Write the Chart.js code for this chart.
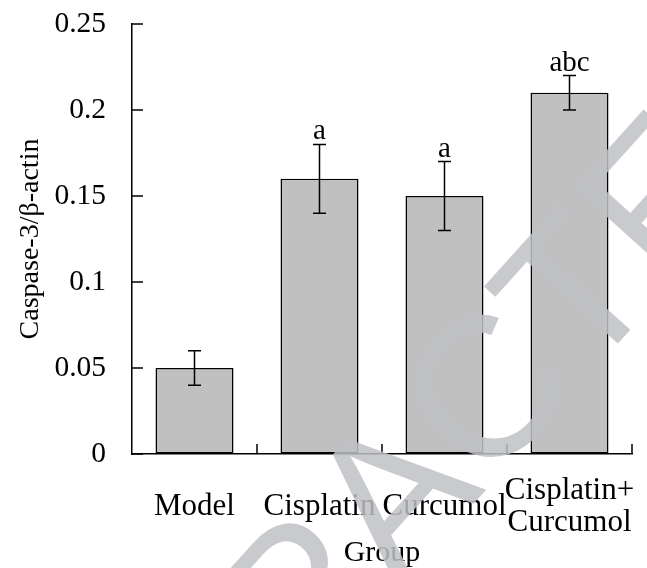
<!DOCTYPE html>
<html>
<head>
<meta charset="utf-8">
<script src="https://cdn.jsdelivr.net/npm/chart.js@4.4.1/dist/chart.umd.min.js"></script>
<style>
  html, body { margin: 0; padding: 0; background: #fff; }
  #wrap { width: 647px; height: 568px; position: relative; }
</style>
</head>
<body>
<div id="wrap"><canvas id="caspaseChart"></canvas></div>
<script>
// Data
const groups = ['Model', 'Cisplatin', 'Curcumol', ['Cisplatin+', 'Curcumol']];
const means = [0.05, 0.16, 0.15, 0.21];
const errors = [0.01, 0.02, 0.02, 0.01];
const marks = ['', 'a', 'a', 'abc'];
const yTicks = [0, 0.05, 0.1, 0.15, 0.2, 0.25];

const serif = '"Liberation Serif", "Times New Roman", serif';
Chart.defaults.font.family = serif;
Chart.defaults.color = '#000';

// Error bars, significance letters and inward tick marks
const figureExtras = {
    id: 'figureExtras',
    afterDatasetsDraw(chart) {
        const ctx = chart.ctx;
        const x = chart.scales.x;
        const y = chart.scales.y;
        const meta = chart.getDatasetMeta(0);
        const area = chart.chartArea;

        ctx.save();
        ctx.strokeStyle = '#000';
        ctx.lineWidth = 1.5;
        meta.data.forEach((bar, i) => {
            const top = y.getPixelForValue(means[i] + errors[i]);
            const bottom = y.getPixelForValue(means[i] - errors[i]);
            ctx.beginPath();
            ctx.moveTo(bar.x, top);
            ctx.lineTo(bar.x, bottom);
            ctx.moveTo(bar.x - 6.5, top);
            ctx.lineTo(bar.x + 6.5, top);
            ctx.moveTo(bar.x - 6.5, bottom);
            ctx.lineTo(bar.x + 6.5, bottom);
            ctx.stroke();

            if (marks[i]) {
                ctx.fillStyle = '#000';
                ctx.font = '29px ' + serif;
                ctx.textAlign = 'center';
                ctx.textBaseline = 'alphabetic';
                ctx.fillText(marks[i], bar.x, top - 5);
            }
        });

        // tick marks pointing into the plot
        ctx.beginPath();
        yTicks.forEach(v => {
            const py = y.getPixelForValue(v);
            ctx.moveTo(area.left, py);
            ctx.lineTo(area.left + 11, py);
        });
        for (let i = 0; i < groups.length; i++) {
            const px = x.getPixelForValue(i + 0.5);
            ctx.moveTo(px, area.bottom);
            ctx.lineTo(px, area.bottom - 10);
        }
        ctx.stroke();
        ctx.restore();
    },
    afterDraw(chart) {
        // RETRACTED stamp over the figure
        const ctx = chart.ctx;
        ctx.save();
        ctx.translate(401, 502);
        ctx.rotate(-48 * Math.PI / 180);
        ctx.font = '200px "Liberation Sans", Arial, sans-serif';
        ctx.textAlign = 'center';
        ctx.textBaseline = 'middle';
        ctx.fillStyle = 'rgba(192, 193, 196, 0.85)';
        ctx.fillText('RETRACTED', 0, 0);
        ctx.restore();
    }
};

new Chart(document.getElementById('caspaseChart'), {
    type: 'bar',
    data: {
        labels: groups,
        datasets: [{
            label: 'Caspase-3/β-actin',
            data: means,
            backgroundColor: '#c0c0c0',
            borderColor: '#000',
            borderWidth: 1.5,
            borderSkipped: false,
            categoryPercentage: 1,
            barPercentage: 0.624
        }]
    },
    options: {
        responsive: true,
        maintainAspectRatio: false,
        animation: false,
        layout: {
            padding: { top: 24, right: 15, bottom: 0, left: 8 }
        },
        plugins: {
            legend: { display: false },
            tooltip: { enabled: false }
        },
        scales: {
            x: {
                afterFit(scale) {
                    scale.height = 114;
                    scale.paddingLeft = 0;
                    scale.paddingRight = 0;
                },
                grid: { drawOnChartArea: false, drawTicks: false },
                border: { display: true, color: '#000', width: 1.5 },
                ticks: {
                    autoSkip: false,
                    maxRotation: 0,
                    minRotation: 0,
                    crossAlign: 'center',
                    padding: 37,
                    color: '#000',
                    font: { size: 31, lineHeight: 1.03 }
                },
                title: {
                    display: true,
                    text: 'Group',
                    color: '#000',
                    padding: { top: 0, bottom: 0 },
                    font: { size: 30, lineHeight: 1.0 }
                }
            },
            y: {
                min: 0,
                max: 0.25,
                afterFit(scale) {
                    scale.width = 124;
                    scale.paddingTop = 0;
                    scale.paddingBottom = 0;
                },
                afterBuildTicks(scale) {
                    scale.ticks = yTicks.map(v => ({ value: v }));
                },
                grid: { drawOnChartArea: false, drawTicks: false },
                border: { display: true, color: '#000', width: 1.5 },
                ticks: {
                    padding: 26,
                    color: '#000',
                    font: { size: 29.5 },
                    callback: v => String(+v.toFixed(2))
                },
                title: {
                    display: true,
                    text: 'Caspase-3/β-actin',
                    color: '#000',
                    padding: { top: 6, bottom: 0 },
                    font: { size: 28, lineHeight: 1.2 }
                }
            }
        }
    },
    plugins: [figureExtras]
});
</script>
</body>
</html>
